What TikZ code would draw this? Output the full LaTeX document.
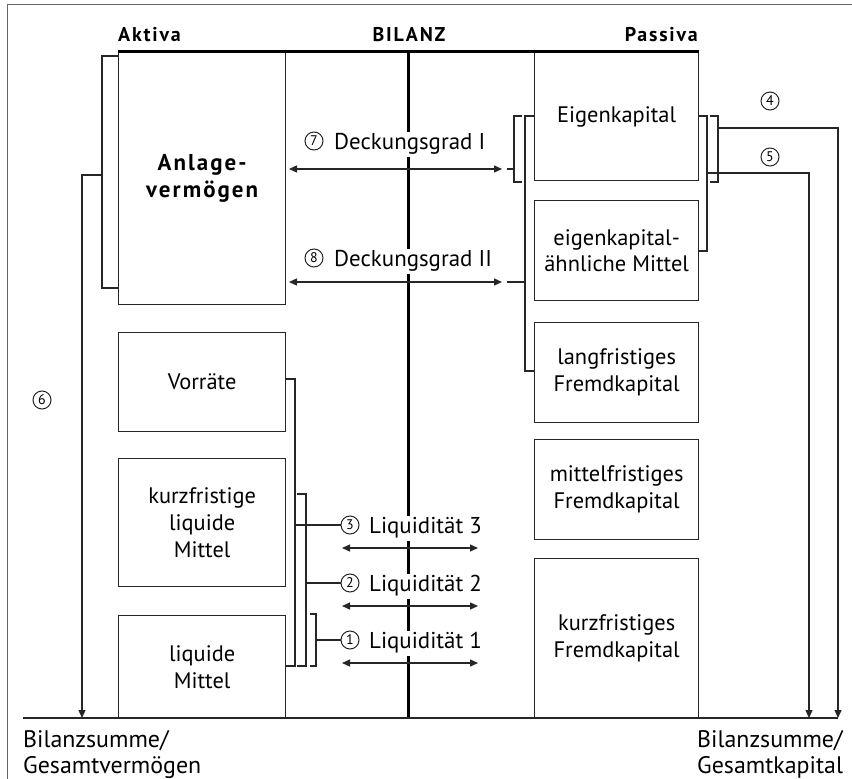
\documentclass[tikz,border=0pt]{standalone}
\usepackage{fontspec}
\setmainfont{PT Sans}
\usetikzlibrary{arrows.meta,calc}
\begin{document}
\begin{tikzpicture}[x=1bp,y=-1bp,
  ln/.style={line width=1.3bp, draw=black!85},
  thick line/.style={line width=3bp, draw=black},
  box/.style={draw=black!85, line width=1.3bp, minimum width=167bp, anchor=north west,
    align=center, inner sep=0pt, font=\fontsize{22.5}{27}\selectfont},
  rbox/.style={box, minimum width=164bp},
  head/.style={font=\bfseries\fontsize{20}{22}\selectfont\addfontfeature{LetterSpace=9}, inner sep=0pt},
  lab/.style={fill=white, inner xsep=1bp, inner ysep=0pt, text height=17bp, text depth=8bp,
    font=\fontsize{23}{24}\selectfont, anchor=base west},
  num/.style={circle, draw=black!85, line width=1bp, minimum size=18bp, inner sep=0pt,
    font=\fontsize{14}{14}\selectfont},
  txt/.style={font=\fontsize{24}{24}\selectfont, inner sep=0pt, anchor=base west},
  arr/.style={ln, -{Triangle[length=8bp,width=7bp]}},
  darr/.style={ln, {Triangle[length=8bp,width=7bp]}-{Triangle[length=8bp,width=7bp]}}
]
\useasboundingbox (0,0) rectangle (852,779);
\fill[white] (0,0) rectangle (852,779);
% frame
\draw[line width=1bp, draw=black!60] (7,779) -- (7,5) -- (852,5);

% headings
\node[head, anchor=base west] (aktiva) at (118,42) {Aktiva};
\node[head, anchor=base] (bilanz) at (409,42) {BILANZ};
\node[head, anchor=base east] (passiva) at (698,42) {Passiva};

% central line
\coordinate (ctop) at (408,52);
\coordinate (cbot) at (408,718);
\draw[thick line] (ctop) -- (cbot);

% Aktiva boxes
\node[box, minimum height=252bp, font=\bfseries\fontsize{23}{27}\selectfont\addfontfeature{LetterSpace=9}] (anlage) at (118,52) {Anlage-\\vermögen};
\node[box, minimum height=99bp] (vorr) at (118,332) {Vorräte};
\node[box, minimum height=128bp] (kliq) at (118,458) {kurzfristige\\liquide\\Mittel};
\node[box, minimum height=103bp] (liq) at (118,615) {liquide\\Mittel};

% Passiva boxes
\node[rbox, minimum height=128bp] (ek) at (534,52) {Eigenkapital};
\node[rbox, minimum height=100bp] (eka) at (534,200) {eigenkapital-\\ähnliche Mittel};
\node[rbox, minimum height=100bp] (lfk) at (534,322) {langfristiges\\Fremdkapital};
\node[rbox, minimum height=100bp] (mfk) at (534,439) {mittelfristiges\\Fremdkapital};
\node[rbox, minimum height=160bp] (kfk) at (534,558) {kurzfristiges\\Fremdkapital};

% top line and base line
\draw[thick line] (anlage.north west) -- (ek.north east);
\coordinate (bl) at (23,718);
\coordinate (br) at (838,718);
\draw[ln] (bl) -- (br);

% bottom labels
\node[txt] (bsl) at (23,747) {Bilanzsumme/};
\node[txt] (gv) at (23,773) {Gesamtvermögen};
\node[txt] (bsr) at (697,747) {Bilanzsumme/};
\node[txt] (gk) at (697,773) {Gesamtkapital};

% Deckungsgrad labels
\node[num] (n7) at (314,141) {7};
\node[lab] (d7) at (333,149) {Deckungsgrad I};
\node[num] (n8) at (314,258) {8};
\node[lab] (d8) at (333,266) {Deckungsgrad II};

% Liquiditaet labels
\node[num] (n3) at (350,525) {3};
\node[lab] (l3) at (368,533) {Liquidität 3};
\node[num] (n2) at (350,583) {2};
\node[lab] (l2) at (368,591) {Liquidität 2};
\node[num] (n1) at (350,640) {1};
\node[lab] (l1) at (368,648) {Liquidität 1};

% other numbers
\node[num] (n4) at (770,101) {4};
\node[num] (n5) at (770,157) {5};
\node[num] (n6) at (42,400) {6};

% Deckungsgrad arrows
\coordinate (a7l) at (289,169); \coordinate (a7r) at (502,169);
\coordinate (a8l) at (289,282); \coordinate (a8r) at (502,282);
\draw[darr] (a7l) -- (a7r);
\draw[darr] (a8l) -- (a8r);

% Deckungsgrad brackets
\draw[ln] (522,116) -- (514,116) -- (514,182) -- (522,182);
\draw[ln] (514,169) -- (507,169);
\draw[ln] (ek.west |- 0,116) -- (525,116) -- (525,371) -- (lfk.west |- 0,371);
\draw[ln] (525,282) -- (507,282);

% Liquiditaet arrows
\draw[darr] (342,548) -- (478,548);
\draw[darr] (342,606) -- (478,606);
\draw[darr] (342,663) -- (478,663);

% Liquiditaet brackets
\draw[ln] (vorr.east |- 0,379) -- (295,379) -- (295,666) -- (liq.east |- 0,666);
\draw[ln] (295,525) -- (n3.west);
\draw[ln] (297,494) -- (306,494) -- (306,666) -- (297,666);
\draw[ln] (306,583) -- (n2.west);
\draw[ln] (310,614) -- (316,614) -- (316,666) -- (310,666);
\draw[ln] (316,640) -- (n1.west);

% Anlagevermoegen bracket -> (6)
\draw[ln] (anlage.west |- 0,56) -- (102,56) -- (102,288) -- (anlage.west |- 0,288);
\draw[arr] (102,175) -- (82,175) -- (82,0 |- bl);

% right brackets -> (4), (5)
\draw[ln] (ek.east |- 0,116) -- (707,116) -- (707,251) -- (eka.east |- 0,251);
\draw[arr] (707,173) -- (809,173) -- (809,0 |- br);
\draw[ln] (710,116) -- (718,116) -- (718,182) -- (710,182);
\draw[arr] (718,128) -- (838,128) -- (br);
\end{tikzpicture}
\end{document}
